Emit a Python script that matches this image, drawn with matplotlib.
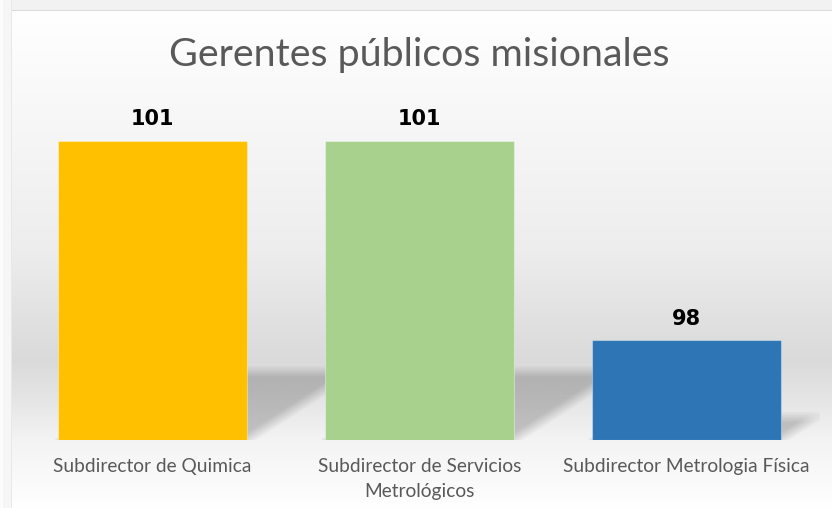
import matplotlib
matplotlib.use("Agg")
import matplotlib.pyplot as plt
import numpy as np

categorias = ["Subdirector de Quimica", "Subdirector de Servicios\nMetrológicos",
              "Subdirector Metrologia Física"]
valores = [101, 101, 98]
colores = ["#FFC000", "#A9D18E", "#2E75B6"]
titulo = "Gerentes públicos misionales"

W, H = 832, 508
y_min, y_max = 96.5, 101.625
ancho = 0.708

fig = plt.figure(figsize=(W / 100, H / 100), dpi=100)

# fondo: marco gris claro + degradado vertical del area del grafico
bg = fig.add_axes([0, 0, 1, 1], zorder=-2)
rows = np.arange(H)
stops_y = [10, 60, 150, 250, 300, 360, 400, 440, 480, 508]
stops_v = [1.0, 0.985, 0.96, 0.93, 0.895, 0.855, 0.9, 0.955, 0.98, 1.0]
col = np.interp(rows, stops_y, stops_v)
img = np.repeat(col[:, None], W, axis=1)
img[:10, :] = 0.95
img[10, 12:] = 0.86
img[:, :12] = 0.965
img[:, 11] = 0.91
img[:, :3] = 0.99
bg.imshow(np.dstack([img] * 3), aspect="auto", interpolation="bilinear")
bg.axis("off")

ax = fig.add_axes([19 / W, 68 / H, 801 / W, 340 / H])
ax.patch.set_alpha(0)

x = np.arange(len(valores))

# sombra proyectada a la derecha de cada barra
px_x = 801 / 3.0
px_y = 340 / (y_max - y_min)
gx = np.linspace(-0.5, 2.5, 900)
gy = np.linspace(y_min, y_max, 400)
XX, YY = np.meshgrid(gx, gy)
alpha = np.zeros_like(XX)
for xi, v in zip(x, valores):
    h = v - y_min
    dy = 0.23 * h
    dx = 0.0884 * h
    L, R = xi - ancho / 2, xi + ancho / 2
    t = (YY - y_min) / dy
    d_top = (y_min + dy - YY) * px_y
    d_right = (R + t * dx - XX) * px_x
    d_left = (XX - (L + t * dx)) * px_x
    a = (np.clip(0.5 + d_top / 12, 0, 1) * np.clip(0.5 + d_right / 22, 0, 1)
         * np.clip(0.5 + d_left / 10, 0, 1) * (YY >= y_min))
    alpha = np.maximum(alpha, a)
shade = np.zeros(XX.shape + (4,))
shade[..., 3] = 0.2 * alpha
ax.imshow(shade, extent=[-0.5, 2.5, y_min, y_max], origin="lower",
          aspect="auto", zorder=1, interpolation="bilinear")

bars = ax.bar(x, np.array(valores) - y_min, bottom=y_min, width=ancho,
              color=colores, edgecolor=(1, 1, 1, 0.35), linewidth=0.8, zorder=2)

for xi, v in zip(x, valores):
    ax.annotate(str(v), (xi, v), xytext=(0, 11.5), textcoords="offset points",
                ha="center", va="baseline", fontsize=15, fontweight="bold",
                family="DejaVu Sans", color="black")

ax.set_xlim(-0.5, 2.5)
ax.set_ylim(y_min, y_max)
ax.set_xticks(x)
ax.set_xticklabels(categorias, family="Lato", fontsize=13.8, color="#595959",
                   linespacing=1.55)
ax.tick_params(axis="x", length=0, pad=13)
ax.set_yticks([])
for s in ax.spines.values():
    s.set_visible(False)

fig.text(419.5 / W, 1 - 55 / H, titulo, ha="center", va="center",
         family="Lato", fontsize=28.4, color="#595959")

fig.savefig("out.png", dpi=100)
